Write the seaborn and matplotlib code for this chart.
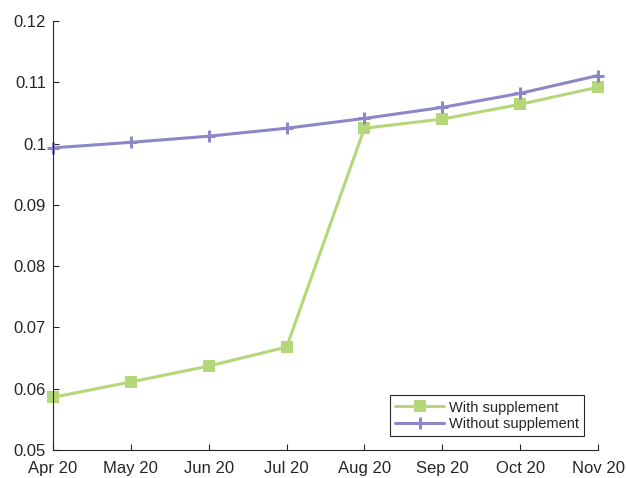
import pandas as pd
import numpy as np
import matplotlib
matplotlib.use("Agg")
import matplotlib.pyplot as plt
import seaborn as sns

months = ["Apr 20", "May 20", "Jun 20", "Jul 20", "Aug 20", "Sep 20", "Oct 20", "Nov 20"]
with_supp = [0.0586, 0.0611, 0.0637, 0.0668, 0.1025, 0.1040, 0.1064, 0.1092]
without_supp = [0.0993, 0.1002, 0.1012, 0.1025, 0.1041, 0.1059, 0.1082, 0.1111]

sns.set_style("ticks")
plt.rcParams['font.family'] = ['Liberation Sans', 'DejaVu Sans']

df = pd.DataFrame({"x": np.arange(len(months)), "with": with_supp, "without": without_supp})

green = "#b4d77a"
purple = "#8c88c8"

fig = plt.figure(figsize=(6.26, 4.78), dpi=100)
ax = fig.add_axes([0.0847, 0.0586, 0.8706, 0.8975])

sns.lineplot(data=df, x="x", y="with", ax=ax, color=green, lw=2.2,
             marker="s", markersize=8, markeredgewidth=0, markeredgecolor=green,
             label="With supplement", clip_on=False)
sns.lineplot(data=df, x="x", y="without", ax=ax, color=purple, lw=2.2,
             marker="+", markersize=9, markeredgewidth=2.2, markeredgecolor=purple,
             label="Without supplement", clip_on=False)

ax.set_xlim(0, len(months) - 1)
ax.set_ylim(0.05, 0.12)
ax.set_xticks(df["x"])
ax.set_xticklabels(months)
ax.set_yticks([0.05, 0.06, 0.07, 0.08, 0.09, 0.10, 0.11, 0.12])
ax.set_yticklabels(["0.05", "0.06", "0.07", "0.08", "0.09", "0.1", "0.11", "0.12"])
ax.set_xlabel("")
ax.set_ylabel("")
ax.tick_params(direction="in", length=4, width=0.8, colors="#262626", labelsize=12)
ax.tick_params(axis="x", pad=8)
ax.tick_params(axis="y", pad=5)
for s in ["left", "bottom"]:
    ax.spines[s].set_color("#262626")
    ax.spines[s].set_linewidth(0.8)
sns.despine(ax=ax)

leg = ax.legend(loc="lower right", bbox_to_anchor=(0.974, 0.033), fontsize=10.5,
                fancybox=False, framealpha=1, edgecolor="#262626",
                borderpad=0.35, labelspacing=0.15, handlelength=3.4, handletextpad=0.3,
                borderaxespad=0)
leg.get_frame().set_linewidth(0.8)

fig.savefig("out.png", dpi=100)
